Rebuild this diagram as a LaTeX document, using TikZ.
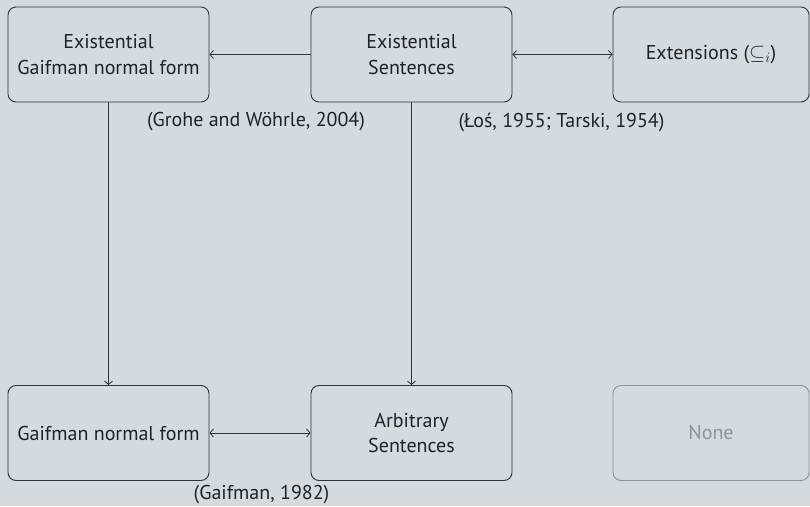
\documentclass[tikz,border=0pt]{standalone}
\usepackage{fontspec}
\setmainfont{PT Sans}
\usetikzlibrary{arrows.meta}
\definecolor{bg}{HTML}{D5DADE}
\definecolor{ink}{HTML}{222222}
\definecolor{edge}{HTML}{333333}
\definecolor{faded}{HTML}{8D9399}
\begin{document}
\begin{tikzpicture}[x=1pt,y=-1pt,
  every node/.style={font=\fontsize{20}{25.5}\selectfont, text=ink},
  box/.style={draw=edge, line width=0.9pt, rounded corners=8pt,
    minimum width=201pt, minimum height=95pt, align=center, inner sep=0pt},
  narrowbox/.style={box, minimum width=196pt},
  ghost/.style={narrowbox, draw=faded, text=faded},
  cite/.style={inner sep=0pt, anchor=center},
  link/.style={draw=edge, line width=0.8pt, -{Straight Barb[length=3.5pt,width=8pt]}},
  biglink/.style={link, {Straight Barb[length=3.5pt,width=8pt]}-{Straight Barb[length=3.5pt,width=8pt]}}
]
\fill[bg] (0,0) rectangle (810,506);
\useasboundingbox (0,0) rectangle (810,506);

% top row
\node[box] (egnf) at (108.5,54.5) {Existential\\Gaifman normal form};
\node[box] (exs)  at (411.5,54.5) {Existential\\Sentences};
\node[narrowbox] (ext) at (711,54.5) {Extensions ($\subseteq_i$)};

% bottom row
\node[box] (gnf) at (108.5,433) {Gaifman normal form};
\node[box] (arb) at (411.5,433) {Arbitrary\\Sentences};
\node[ghost] (none) at (711,433) {None};

% connectors
\draw[link] (exs.west) -- (egnf.east);
\draw[biglink] (exs.east) -- (ext.west);
\draw[link] (egnf.south) -- (gnf.north);
\draw[link] (exs.south) -- (arb.north);
\draw[biglink] (gnf.east) -- (arb.west);

% citations
\node[cite] (c1) at (256,122) {(Grohe and Wöhrle, 2004)};
\node[cite] (c2) at (561.5,122) {(Łoś, 1955; Tarski, 1954)};
\node[cite] (c3) at (261.5,495) {(Gaifman, 1982)};
\end{tikzpicture}
\end{document}
